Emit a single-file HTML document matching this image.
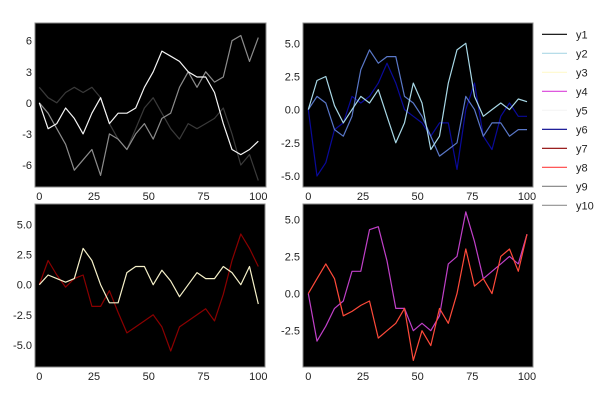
<!DOCTYPE html>
<html><head><meta charset="utf-8"><style>
html,body{margin:0;padding:0;background:#fff;}
svg{display:block;font-family:"Liberation Sans",sans-serif;}
</style></head><body>
<svg id="chart" width="600" height="400" viewBox="0 0 600 400" xmlns="http://www.w3.org/2000/svg"></svg>
<script>
const xs = [0,4,8,12,16,20,24,28,32,36,40,44,48,52,56,60,64,68,72,76,80,84,88,92,96,100];
const y5 = [0,-2.5,-2,-0.5,-1.5,-3,-1,0.5,-2,-1,-1,-0.5,1.5,3,5,4.5,4,3,2.5,2.5,1,-2,-4.5,-5,-4.5,-3.7];
const y9 = [0,-1,-2.5,-4,-6.5,-5.5,-4.5,-7,-3,-3.5,-4.5,-3,-2,-3.5,-1.5,-1,1.5,3,1.5,3,2,2.5,6,6.5,4,6.3];
const y10 = [1.5,0.5,0,1,1.5,1,1.5,0.5,-2,-3.5,-4.5,-2.5,-0.5,0.5,-1,-2.5,-3.5,-2,-2.5,-2,-1.5,-0.5,-3,-6,-5,-7.5];
const y2 = [0,2.2,2.5,0.3,-1,0,1,0.5,1.5,-0.5,-2.5,-1,2,0.5,-3,-2,2,4.5,5,1,-0.5,0,0.5,0,0.8,0.6];
const y2b = [0,1,0.5,-1.5,-2,-0.5,3,4.5,3.5,4,4,1,0.5,-0.5,-2,-3.5,-3,-2.5,1,0,-2,-1,-1,-2,-1.5,-1.5];
const y6 = [0,-5,-4,-1.5,-1,1,0.5,1,2,3.5,2,0,-0.5,-1,-2,-1,-1,-4.5,0,2,-2,-3,-0.5,0.5,-0.5,-0.5];
const y3 = [0,0.8,0.5,0.2,0.5,3,2,0,-1.5,-1.5,1,1.5,1.5,0,1.2,0.3,-1,0,1,0.5,0.5,1.5,1,0,1.5,-1.6];
const y7 = [0,2,0.8,-0.2,0.5,0.8,-1.8,-1.8,-0.5,-2.3,-4,-3.5,-3,-2.5,-3.5,-5.5,-3.5,-3,-2.5,-2,-3,-0.8,2,4.2,3,1.5];
const y4 = [0,-3.2,-2.2,-1,-0.5,1.5,1.5,4.3,4.5,2.2,-1,-1,-2.5,-2,-2.5,-1.5,2,2.5,5.5,3.5,1,1.5,2,2.5,2,4];
const y8 = [0,1,2,1,-1.5,-1.2,-0.8,-0.5,-3,-2.5,-2,-1,-4.5,-2.5,-3.5,-1,-2,0,3,0.5,1,0,2.5,3,1.5,4];
const xTicks = [0,25,50,75,100];
const p1Ticks = [6,3,0,-3,-6];
const p1TickLabels = ["6","3","0","-3","-6"];
const p2Ticks = [5,2.5,0,-2.5,-5];
const p2TickLabels = ["5.0","2.5","0.0","-2.5","-5.0"];
const p3Ticks = [5,2.5,0,-2.5,-5];
const p3TickLabels = ["5.0","2.5","0.0","-2.5","-5.0"];
const p4Ticks = [5,2.5,0,-2.5];
const p4TickLabels = ["5.0","2.5","0.0","-2.5"];
const legendLabels = ["y1","y2","y3","y4","y5","y6","y7","y8","y9","y10"];
const legendColors = ["#000000","#add8e6","#fffacd","#da40da","#f5f5f5","#00008b","#8b0000","#ff4040","#808080","#909090"];

const svg = document.getElementById('chart');
const NS = 'http://www.w3.org/2000/svg';
function mk(tag, attrs){const e=document.createElementNS(NS,tag);for(const k in attrs)e.setAttribute(k,attrs[k]);return e;}

const panels = [
 {name:'panel-top-left', box:[35,23,266,187], x0:39.3, x1:258.3, yv:[6,-6], yp:[40.7,165], ticks:p1Ticks, labels:p1TickLabels,
  series:[{d:y10,c:'#3a3a3a',n:'y10'},{d:y9,c:'#8c8c8c',n:'y9'},{d:y5,c:'#f5f5f5',n:'y5'}]},
 {name:'panel-top-right', box:[303,23,533,187], x0:308.3, x1:527, yv:[5,-5], yp:[43.3,176], ticks:p2Ticks, labels:p2TickLabels,
  series:[{d:y6,c:'#0a0a9a',n:'y6'},{d:y2b,c:'#5a78c8',n:'y2b'},{d:y2,c:'#a8d8e6',n:'y2'}]},
 {name:'panel-bottom-left', box:[35,204,265,367], x0:39.3, x1:258.3, yv:[5,-5], yp:[224.3,345], ticks:p3Ticks, labels:p3TickLabels,
  series:[{d:y7,c:'#8b0000',n:'y7'},{d:y3,c:'#f5f0c8',n:'y3'}]},
 {name:'panel-bottom-right', box:[303,204,533,367], x0:308.3, x1:527, yv:[5,-2.5], yp:[219.3,330.7], ticks:p4Ticks, labels:p4TickLabels,
  series:[{d:y4,c:'#c040c8',n:'y4'},{d:y8,c:'#ff4a3a',n:'y8'}]}
];

panels.forEach(p=>{
  const g=mk('g',{});
  
  
  svg.appendChild(g);
  const [l,t,r,b]=p.box;
  const bg=mk('rect',{x:l,y:t,width:r-l,height:b-t,fill:'#000',stroke:'#888','stroke-width':1});
  
  
  g.appendChild(bg);
  const sx=v=>p.x0+(v-0)*(p.x1-p.x0)/100;
  const sy=v=>p.yp[0]+(v-p.yv[0])*(p.yp[1]-p.yp[0])/(p.yv[1]-p.yv[0]);
  xTicks.forEach(v=>{
    const tx=mk('text',{x:sx(v),y:b+13,'text-anchor':'middle','font-size':11,fill:'#222'});
    tx.textContent=String(v);
    
    
    g.appendChild(tx);
  });
  p.ticks.forEach((v,i)=>{
    const tx=mk('text',{x:l-3,y:sy(v)+4,'text-anchor':'end','font-size':11,fill:'#222'});
    tx.textContent=p.labels[i];
    
    
    g.appendChild(tx);
  });
  p.series.forEach(s=>{
    const pts=s.d.map((v,i)=>sx(xs[i]).toFixed(1)+','+sy(v).toFixed(1)).join(' ');
    const pl=mk('polyline',{points:pts,fill:'none',stroke:s.c,'stroke-width':1.2,'stroke-linejoin':'round'});
    
    
    g.appendChild(pl);
  });
});

const lg=mk('g',{});


svg.appendChild(lg);
legendLabels.forEach((lab,i)=>{
  const y=34.3+i*19;
  const ln=mk('line',{x1:542,x2:567,y1:y,y2:y,stroke:legendColors[i],'stroke-width':1.2});
  
  
  lg.appendChild(ln);
  const tx=mk('text',{x:576,y:y+4,'font-size':11,fill:'#222'});
  tx.textContent=lab;
  
  
  lg.appendChild(tx);
});
</script>
</body></html>
